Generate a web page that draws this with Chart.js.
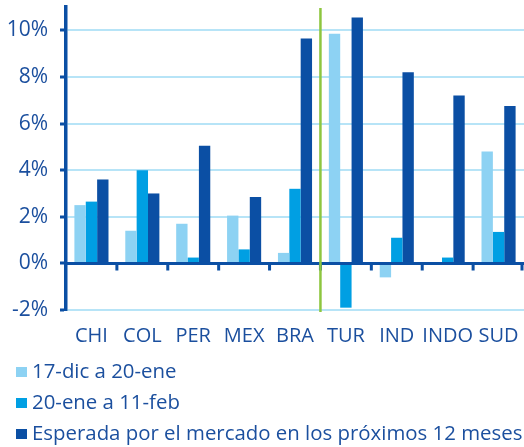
<!DOCTYPE html>
<html>
<head>
<meta charset="utf-8">
<script src="https://cdn.jsdelivr.net/npm/chart.js@4.4.1/dist/chart.umd.min.js"></script>
<style>
body { margin: 0; background: #fff; }
#wrap { position: relative; width: 524px; height: 447px; }
#legend { position: absolute; left: 16px; top: 355px; font-family: "Open Sans", sans-serif; font-size: 20.4px; color: #1b4f9e; }
#legend div { height: 31px; line-height: 31px; white-space: nowrap; }
#legend span { display: inline-block; width: 11px; height: 10px; margin-right: 5px; vertical-align: middle; position: relative; top: -1px; }
</style>
</head>
<body>
<div id="wrap">
  <canvas id="chart"></canvas>
  <div id="legend"></div>
</div>
<script>
var labels = ['CHI', 'COL', 'PER', 'MEX', 'BRA', 'TUR', 'IND', 'INDO', 'SUD'];
var seriesNames = ['17-dic a 20-ene', '20-ene a 11-feb', 'Esperada por el mercado en los próximos 12 meses'];
var dicEne = [2.5, 1.4, 1.7, 2.05, 0.45, 9.85, -0.6, -0.05, 4.8];
var eneFeb = [2.65, 4.0, 0.25, 0.6, 3.2, -1.9, 1.1, 0.25, 1.35];
var esperada = [3.6, 3.0, 5.05, 2.85, 9.65, 10.55, 8.2, 7.2, 6.75];
var yTicks = [-2, 0, 2, 4, 6, 8, 10];

var light = '#8dd2f3';
var mid = '#009fe3';
var dark = '#0b4fa4';
var textColor = '#1b4f9e';
var gridColor = '#b7e4f7';
var green = '#8dc63f';

var marks = {
    id: 'marks',
    afterDatasetsDraw: function (chart) {
        var ctx = chart.ctx;
        var area = chart.chartArea;
        var y0 = chart.scales.y.getPixelForValue(0);
        var step = (area.right - area.left) / labels.length;
        ctx.save();
        ctx.strokeStyle = dark;
        ctx.lineWidth = 3;
        ctx.beginPath();
        ctx.moveTo(area.left, y0);
        ctx.lineTo(area.right, y0);
        for (var i = 1; i <= labels.length; i++) {
            var bx = area.left + step * i;
            if (i == labels.length) bx -= 2;
            ctx.moveTo(bx, y0);
            ctx.lineTo(bx, y0 + 7);
        }
        ctx.stroke();
        // separator between BRA and TUR
        var gx = area.left + step * 5;
        ctx.strokeStyle = green;
        ctx.lineWidth = 2.5;
        ctx.beginPath();
        ctx.moveTo(gx, area.top + 1);
        ctx.lineTo(gx, area.bottom + 2);
        ctx.stroke();
        ctx.restore();
    }
};

function noPad(scale) {
    scale.paddingTop = 0;
    scale.paddingBottom = 0;
    scale.paddingLeft = 0;
    scale.paddingRight = 0;
}

var ctx = document.getElementById('chart').getContext('2d');
ctx.canvas.width = 524;
ctx.canvas.height = 447;
var chart = new Chart(ctx, {
    type: 'bar',
    data: {
        labels: labels,
        datasets: [{
            label: seriesNames[0],
            data: dicEne,
            backgroundColor: light
        }, {
            label: seriesNames[1],
            data: eneFeb,
            backgroundColor: mid
        }, {
            label: seriesNames[2],
            data: esperada,
            backgroundColor: dark
        }]
    },
    options: {
        responsive: false,
        animation: false,
        categoryPercentage: 0.67,
        barPercentage: 1,
        layout: { padding: { top: 7, right: 0, bottom: 97, left: 0 } },
        plugins: {
            legend: { display: false },
            tooltip: { enabled: false }
        },
        scales: {
            x: {
                grid: { display: false, drawTicks: false },
                border: { display: false },
                ticks: {
                    color: textColor,
                    font: { family: '"Open Sans", sans-serif', size: 20 },
                    padding: 14,
                    maxRotation: 0,
                    minRotation: 0,
                    autoSkip: false
                },
                afterFit: function (scale) { scale.height = 40; noPad(scale); }
            },
            y: {
                min: -2,
                max: 11,
                afterBuildTicks: function (scale) {
                    scale.ticks = yTicks.map(function (v) { return { value: v }; });
                },
                grid: {
                    color: gridColor,
                    lineWidth: 2,
                    tickLength: 6,
                    tickColor: dark,
                    tickWidth: 3
                },
                border: { color: dark, width: 3.5 },
                ticks: {
                    color: textColor,
                    font: { family: '"Open Sans", sans-serif', size: 21 },
                    padding: 12,
                    callback: function (v) { return v + '%'; }
                },
                afterFit: function (scale) { scale.width = 66; noPad(scale); }
            }
        }
    },
    plugins: [marks]
});

var legend = document.getElementById('legend');
chart.data.datasets.forEach(function (ds) {
    var row = document.createElement('div');
    var box = document.createElement('span');
    box.style.background = ds.backgroundColor;
    row.appendChild(box);
    row.appendChild(document.createTextNode(ds.label));
    legend.appendChild(row);
});
</script>
</body>
</html>
